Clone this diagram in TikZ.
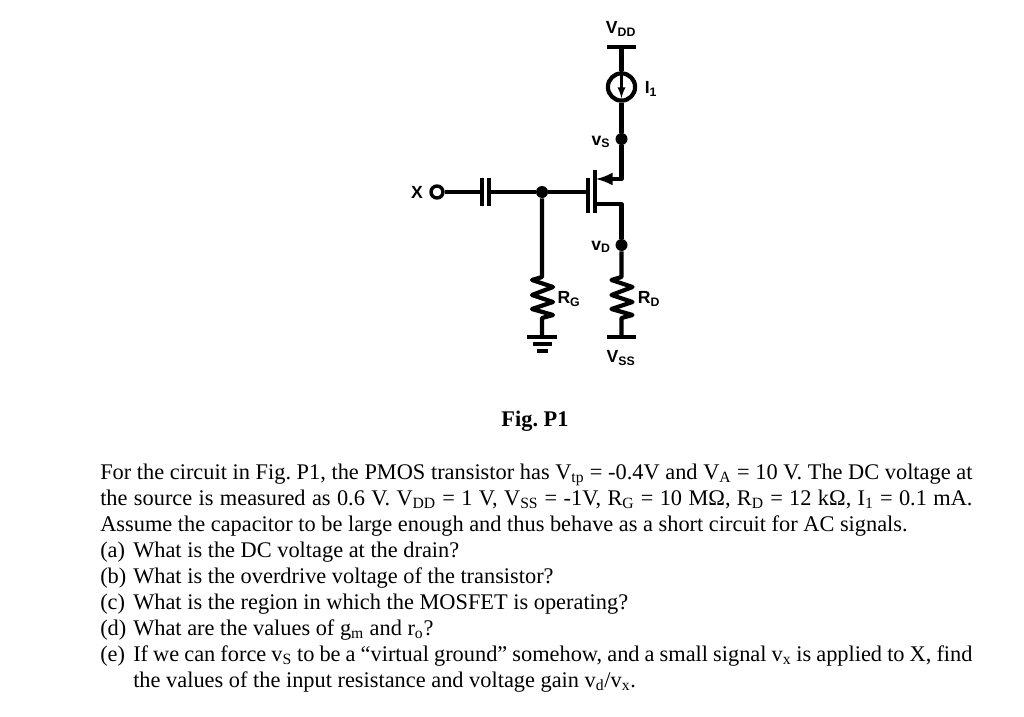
\documentclass[tikz,border=0pt]{standalone}
\usepackage{fontspec}
\setmainfont{Liberation Serif}
\newfontfamily\labelfont{Liberation Sans}[BoldFont={* Bold}]
\usetikzlibrary{arrows, positioning}
\tikzstyle{wire} = [line width=3pt, line join=round]
\tikzstyle{dot} = [circle, fill=black, inner sep=0, minimum size=0.3cm]
\tikzstyle{terminal} = [circle, draw=black, line width=2.4pt, fill=white, inner sep=0, minimum size=0.3cm]
\tikzstyle{source} = [circle, draw=black, line width=3pt, inner sep=0, minimum size=0.68cm]
\tikzstyle{label} = [inner sep=0, font=\labelfont\bfseries\fontsize{12.5}{14}\selectfont]
\tikzstyle{question} = [anchor=base west, inner sep=0, font=\frenchspacing\fontsize{15.9}{18}\selectfont]
\newcommand{\optlabel}[1]{\makebox[0.825cm][l]{#1}}
\newcommand{\fullline}[2]{\makebox[#1][s]{#2}}

\begin{document}
\begin{tikzpicture}[x=0.025cm, y=-0.025cm]
	\useasboundingbox (0, 0) rectangle (1024, 716);

	% supply and current source
	\node (VDD) [label] at (621, 29) {V\textsubscript{DD}};
	\coordinate (VDDLeft) at (607, 47);
	\coordinate (VDDRight) at (636, 47);
	\coordinate (VDDMid) at (621.5, 47);
	\draw [wire] (VDDLeft) -- (VDDRight);
	\node (I1) [source] at (621.5, 87) {};
	\node (I1Label) [label] at (651, 89) {I\textsubscript{1}};
	\coordinate (I1Tip) at (621.5, 98);
	\draw [wire] (VDDMid) -- (I1);
	\draw [line width=1.6pt, -latex] (I1.north) -- (I1Tip);

	% source
	\node (NodeS) [dot] at (621.5, 139) {};
	\node (VS) [label] at (601, 142) {v\textsubscript{S}};
	\draw [wire] (I1) -- (NodeS);
	\coordinate (SourceCorner) at (621.5, 179);
	\coordinate (SourceTip) at (596, 179);
	\draw [wire, -latex] (NodeS) -- (SourceCorner) -- (SourceTip);

	% transistor
	\coordinate (ChannelTop) at (595, 170);
	\coordinate (ChannelBot) at (595, 213);
	\coordinate (GateTop) at (588, 178);
	\coordinate (GateBot) at (588, 213);
	\coordinate (GateMid) at (588, 192);
	\draw [wire] (ChannelTop) -- (ChannelBot);
	\draw [wire] (GateTop) -- (GateBot);
	\coordinate (DrainLeft) at (595, 204);
	\coordinate (DrainCorner) at (621.5, 204);

	% input
	\node (XLabel) [label] at (417, 192) {X};
	\node (X) [terminal] at (437, 192) {};
	\coordinate (CapLeft) at (482, 192);
	\coordinate (CapRight) at (489, 192);
	\draw [wire] (X) -- (CapLeft);
	\draw [wire] (482, 178) -- (482, 206);
	\draw [wire] (489, 178) -- (489, 206);
	\node (NodeG) [dot] at (542, 192) {};
	\draw [wire] (CapRight) -- (NodeG);
	\draw [wire] (NodeG) -- (GateMid);

	% RG
	\coordinate (RGTop) at (542, 277);
	\coordinate (RGBot) at (542, 337);
	\draw [wire] (NodeG) -- (RGTop) -- ++(-10, 3) -- ++(21, 7) -- ++(-21, 8) -- ++(21, 7) -- ++(-21, 7) -- ++(21, 6) -- ++(-11, 3) -- (RGBot);
	\node (RG) [label] at (569, 299) {R\textsubscript{G}};
	\draw [wire] (527, 337) -- (557, 337);
	\draw [wire] (533, 344) -- (552, 344);
	\draw [wire] (537, 351) -- (548, 351);

	% RD
	\node (NodeD) [dot] at (621.5, 245) {};
	\node (VD) [label] at (601, 247) {v\textsubscript{D}};
	\draw [wire] (DrainLeft) -- (DrainCorner) -- (NodeD);
	\coordinate (RDTop) at (621.5, 277);
	\coordinate (RDBot) at (621.5, 337);
	\draw [wire] (NodeD) -- (RDTop) -- ++(-10, 3) -- ++(21, 7) -- ++(-21, 8) -- ++(21, 7) -- ++(-21, 7) -- ++(21, 6) -- ++(-11, 3) -- (RDBot);
	\node (RD) [label] at (649, 299) {R\textsubscript{D}};
	\draw [wire] (607, 337) -- (636, 337);
	\node (VSS) [label] at (621, 358) {V\textsubscript{SS}};

	% text
	\node (Fig) [inner sep=0, font=\bfseries\frenchspacing\fontsize{15.9}{18}\selectfont] at (535, 421) {Fig. P1};
	\node (Line1) [question] at (100, 479) {\fullline{21.8cm}{For the circuit in Fig. P1, the PMOS transistor has V\textsubscript{tp} = -0.4V and V\textsubscript{A} = 10 V. The DC voltage at}};
	\node (Line2) [question] at (100, 505) {\fullline{21.8cm}{the source is measured as 0.6 V. V\textsubscript{DD} = 1 V, V\textsubscript{SS} = -1V, R\textsubscript{G} = 10 MΩ, R\textsubscript{D} = 12 kΩ, I\textsubscript{1} = 0.1 mA.}};
	\node (Line3) [question] at (100, 531) {Assume the capacitor to be large enough and thus behave as a short circuit for AC signals.};
	\node (Line4) [question] at (100, 557) {\optlabel{(a)}What is the DC voltage at the drain?};
	\node (Line5) [question] at (100, 583) {\optlabel{(b)}What is the overdrive voltage of the transistor?};
	\node (Line6) [question] at (100, 609) {\optlabel{(c)}What is the region in which the MOSFET is operating?};
	\node (Line7) [question] at (100, 635) {\optlabel{(d)}What are the values of g\textsubscript{m} and r\textsubscript{o}?};
	\node (Line8) [question] at (100, 661) {\optlabel{(e)}\fullline{20.975cm}{If we can force v\textsubscript{S} to be a “virtual ground” somehow, and a small signal v\textsubscript{x} is applied to X, find}};
	\node (Line9) [question] at (133, 687) {the values of the input resistance and voltage gain v\textsubscript{d}/v\textsubscript{x}.};
\end{tikzpicture}
\end{document}
